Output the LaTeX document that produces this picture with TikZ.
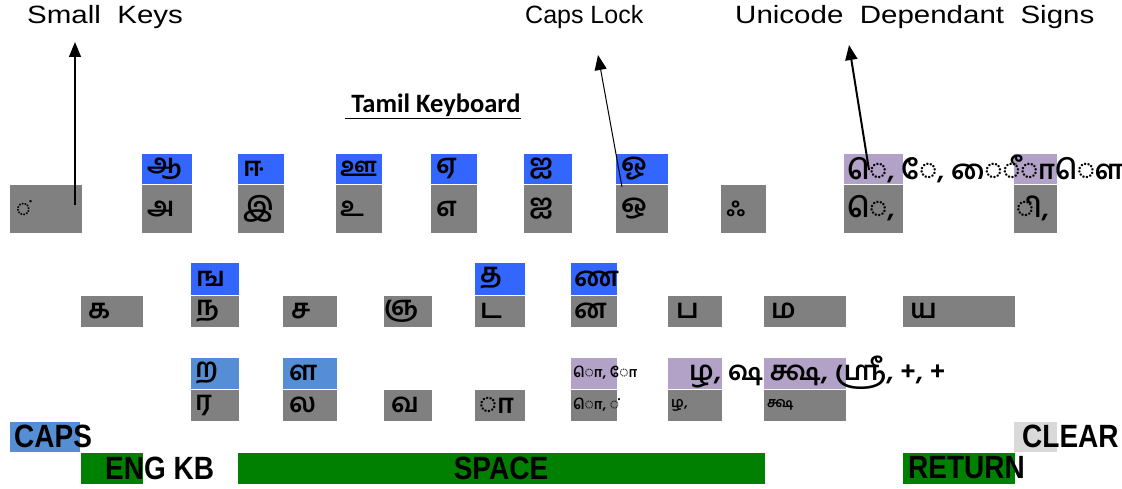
\documentclass[tikz,border=0pt]{standalone}
\usepackage{fontspec}
\setmainfont{Liberation Sans}
\newfontfamily\tafont[Script=Tamil]{Hind Madurai}
\newfontfamily\calfont{Carlito}
\usetikzlibrary{arrows.meta}
\definecolor{keygray}{RGB}{128,128,128}
\definecolor{keyblue}{RGB}{51,102,255}
\definecolor{keylblue}{RGB}{85,142,213}
\definecolor{keypurple}{RGB}{179,162,199}
\definecolor{keygreen}{RGB}{0,128,0}
\definecolor{keylgray}{RGB}{217,217,217}
\newcommand\rk[6]{\node[keyrect, fill=#6, minimum width={(#3-#2)*1pt}, minimum height={(#5-#4)*1pt}] (#1) at ({(#2+#3)/2},{(#4+#5)/2}) {};}
\tikzset{
  keyrect/.style={draw=white, line width=0.4pt, inner sep=0pt, outer sep=0pt},
  kt/.style={anchor=west, inner sep=0pt, font=\tafont\bfseries\fontsize{27}{29}\selectfont},
  ktsmall/.style={anchor=west, inner sep=0pt, font=\tafont\bfseries\fontsize{14}{16}\selectfont},
  lbl/.style={inner sep=0pt, font=\fontsize{25}{28}\selectfont},
  bt/.style={anchor=west, inner sep=0pt, yscale=1.15, font=\bfseries\fontsize{28}{30}\selectfont},
  annot/.style={line width=1.3pt, -{Triangle[width=12pt,length=15pt]}},
}
\begin{document}
\begin{tikzpicture}[x=1pt,y=-1pt]
\useasboundingbox (0,0) rectangle (1122,489);
% ---------- row 1
\rk{r1k1}{9}{82}{184}{233}{keygray}
\rk{r1k2u}{141}{192}{153}{184}{keyblue}
\rk{r1k2}{141}{192}{184}{233}{keygray}
\rk{r1k3u}{237}{284}{153}{184}{keyblue}
\rk{r1k3}{237}{284}{184}{233}{keygray}
\rk{r1k4u}{335}{382}{153}{184}{keyblue}
\rk{r1k4}{335}{382}{184}{233}{keygray}
\rk{r1k5u}{430}{477}{153}{184}{keyblue}
\rk{r1k5}{430}{477}{184}{233}{keygray}
\rk{r1k6u}{523}{572}{153}{184}{keyblue}
\rk{r1k6}{523}{572}{184}{233}{keygray}
\rk{r1k7u}{615}{668}{153}{184}{keyblue}
\rk{r1k7}{615}{668}{184}{233}{keygray}
\rk{r1k8}{720}{766}{184}{233}{keygray}
\rk{r1k9u}{843}{903}{153}{184}{keypurple}
\rk{r1k9}{843}{903}{184}{233}{keygray}
\rk{r1k10u}{1013}{1057}{153}{184}{keypurple}
\rk{r1k10}{1013}{1057}{184}{233}{keygray}
% ---------- row 2
\rk{r2k1}{80}{143}{295}{327}{keygray}
\rk{r2k2u}{190}{239}{262}{295}{keyblue}
\rk{r2k2}{190}{239}{295}{327}{keygray}
\rk{r2k3}{282}{337}{295}{327}{keygray}
\rk{r2k4}{383}{432}{295}{327}{keygray}
\rk{r2k5u}{474}{525}{262}{295}{keyblue}
\rk{r2k5}{474}{525}{295}{327}{keygray}
\rk{r2k6u}{570}{617}{262}{295}{keyblue}
\rk{r2k6}{570}{617}{295}{327}{keygray}
\rk{r2k7}{667}{722}{295}{327}{keygray}
\rk{r2k8}{763}{846}{295}{327}{keygray}
\rk{r2k9}{902}{1015}{295}{327}{keygray}
% ---------- row 3
\rk{r3k1u}{190}{239}{357}{389}{keylblue}
\rk{r3k1}{190}{239}{389}{421}{keygray}
\rk{r3k2u}{282}{337}{357}{389}{keylblue}
\rk{r3k2}{282}{337}{389}{421}{keygray}
\rk{r3k3}{383}{432}{389}{421}{keygray}
\rk{r3k4}{474}{525}{389}{421}{keygray}
\rk{r3k5u}{570}{617}{357}{389}{keypurple}
\rk{r3k5}{570}{617}{389}{421}{keygray}
\rk{r3k6u}{667}{722}{357}{389}{keypurple}
\rk{r3k6}{667}{722}{389}{421}{keygray}
\rk{r3k7u}{763}{846}{357}{389}{keypurple}
\rk{r3k7}{763}{846}{389}{421}{keygray}
% ---------- bottom keys
\rk{caps}{9}{80}{421}{452}{keylblue}
\rk{clear}{1013}{1057}{421}{452}{keylgray}
\rk{engkb}{80}{143}{452}{484}{keygreen}
\rk{space}{237}{765}{452}{484}{keygreen}
\rk{return}{902}{1015}{452}{484}{keygreen}
% ---------- key texts row 1
\node[kt, font=\tafont\fontsize{22}{24}\selectfont] (t-r1k1) at ([xshift=7pt]r1k1.west) {◌்};
\node[kt] (t-r1k2u) at ([xshift=6pt]r1k2u.west) {ஆ};
\node[kt] (t-r1k2) at ([xshift=6pt]r1k2.west) {அ};
\node[kt] (t-r1k3u) at ([xshift=6pt]r1k3u.west) {ஈ};
\node[kt] (t-r1k3) at ([xshift=6pt]r1k3.west) {இ};
\node[kt] (t-r1k4u) at ([xshift=5pt]r1k4u.west) {ஊ};
\node[kt] (t-r1k4) at ([xshift=5pt]r1k4.west) {உ};
\node[kt] (t-r1k5u) at ([xshift=6pt]r1k5u.west) {ஏ};
\node[kt] (t-r1k5) at ([xshift=6pt]r1k5.west) {எ};
\node[kt] (t-r1k6u) at ([xshift=6pt]r1k6u.west) {ஐ};
\node[kt] (t-r1k6) at ([xshift=6pt]r1k6.west) {ஐ};
\node[kt] (t-r1k7u) at ([xshift=6pt]r1k7u.west) {ஓ};
\node[kt] (t-r1k7) at ([xshift=6pt]r1k7.west) {ஒ};
\node[kt] (t-r1k8) at ([xshift=6pt]r1k8.west) {ஃ};
\node[kt] (t-r1k9u) at ([xshift=4pt]r1k9u.west) {◌ெ, ◌ே, ◌ை◌ீ◌ா◌ௌ};
\node[kt] (t-r1k9) at ([xshift=4pt]r1k9.west) {◌ெ,};
\node[kt] (t-r1k10) at ([xshift=3pt]r1k10.west) {◌ி,};
% ---------- key texts row 2
\node[kt] (t-r2k1) at ([xshift=8pt]r2k1.west) {க};
\node[kt] (t-r2k2u) at ([xshift=6pt]r2k2u.west) {ங};
\node[kt] (t-r2k2) at ([xshift=6pt]r2k2.west) {ந};
\node[kt] (t-r2k3) at ([xshift=9pt]r2k3.west) {ச};
\node[kt] (t-r2k4) at ([xshift=1pt]r2k4.west) {ஞ};
\node[kt] (t-r2k5u) at ([xshift=6pt]r2k5u.west) {த};
\node[kt] (t-r2k5) at ([xshift=6pt]r2k5.west) {ட};
\node[kt] (t-r2k6u) at ([xshift=4pt]r2k6u.west) {ண};
\node[kt] (t-r2k6) at ([xshift=4pt]r2k6.west) {ன};
\node[kt] (t-r2k7) at ([xshift=9pt]r2k7.west) {ப};
\node[kt] (t-r2k8) at ([xshift=8pt]r2k8.west) {ம};
\node[kt] (t-r2k9) at ([xshift=8pt]r2k9.west) {ய};
% ---------- key texts row 3
\node[kt] (t-r3k1u) at ([xshift=5pt]r3k1u.west) {ற};
\node[kt] (t-r3k1) at ([xshift=5pt]r3k1.west) {ர};
\node[kt] (t-r3k2u) at ([xshift=7pt]r3k2u.west) {ள};
\node[kt] (t-r3k2) at ([xshift=7pt]r3k2.west) {ல};
\node[kt] (t-r3k3) at ([xshift=8pt]r3k3.west) {வ};
\node[kt] (t-r3k4) at ([xshift=5pt]r3k4.west) {◌ா};
\node[ktsmall] (t-r3k5u) at ([xshift=3pt]r3k5u.west) {◌ொ, ◌ோ};
\node[ktsmall] (t-r3k5) at ([xshift=3pt]r3k5.west) {◌ொ, ◌்};
\node[kt] (t-r3k6u) at ([xshift=22pt]r3k6u.west) {ழ, ஷ க்ஷ, ஸ்ரீ, +, +};
\node[ktsmall] (t-r3k6) at ([xshift=4pt]r3k6.west) {ழ,};
\node[ktsmall] (t-r3k7) at ([xshift=4pt]r3k7.west) {க்ஷ};
% ---------- bottom key texts
\node[bt] (t-caps) at ([xshift=5pt]caps.west) {CAPS};
\node[bt] (t-clear) at ([xshift=9pt]clear.west) {CLEAR};
\node[bt] (t-engkb) at ([xshift=25pt]engkb.west) {ENG KB};
\node[bt, anchor=center] (t-space) at (space.center) {SPACE};
\node[bt] (t-return) at ([xshift=6pt]return.west) {RETURN};
% ---------- title
\node[inner sep=0pt, font=\calfont\bfseries\fontsize{26.5}{28}\selectfont] (title) at (433,106) {\underline{\ Tamil Keyboard}};
% ---------- annotations
\node[lbl, anchor=west, xscale=1.18] (l-small) at (27,17) {Small\ \ Keys};
\node[lbl, anchor=west] (l-caps) at (525,17) {Caps\ Lock};
\node[lbl, anchor=west, xscale=1.18] (l-uni) at (735,17) {Unicode\ \ Dependant\ \ Signs};
\coordinate (a1s) at (75,205);
\coordinate (a1e) at (75,42);
\coordinate (a2s) at (622,187);
\coordinate (a2e) at (598,55);
\coordinate (a3s) at (869,170);
\coordinate (a3e) at (849,45);
\draw[annot] (a1s) -- (a1e);
\draw[annot, line width=1pt] (a2s) -- (a2e);
\draw[annot, line width=2pt] (a3s) -- (a3e);
\end{tikzpicture}
\end{document}
